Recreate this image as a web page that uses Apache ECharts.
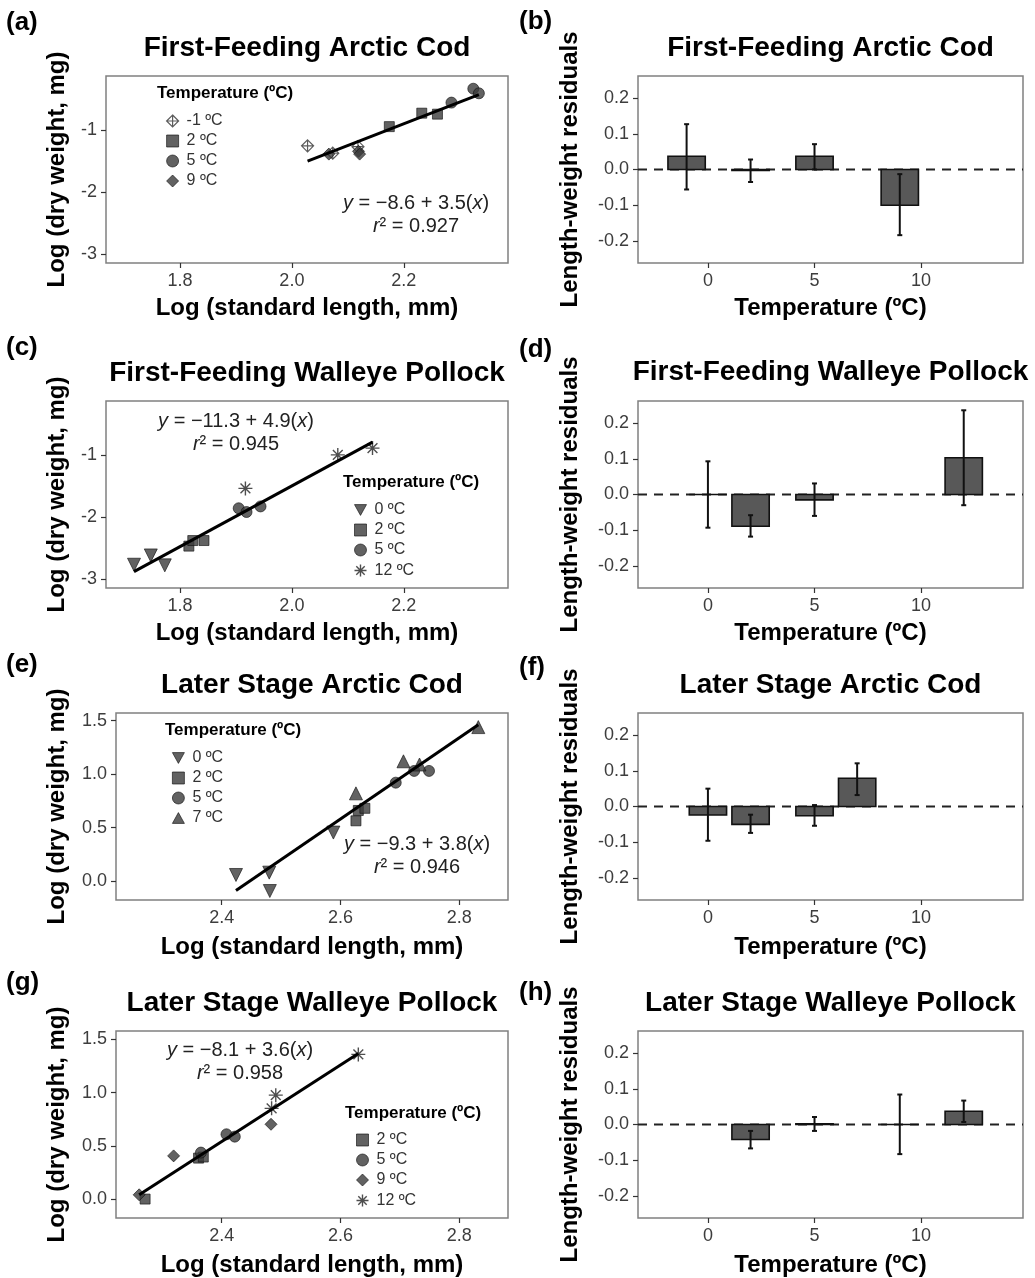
<!DOCTYPE html>
<html>
<head>
<meta charset="utf-8">
<script src="https://cdn.jsdelivr.net/npm/echarts@6/dist/echarts.min.js"></script>
<style>
html, body { margin: 0; padding: 0; background: #fff; }
#main { width: 1035px; height: 1278px; }
</style>
</head>
<body>
<div id="main"></div>
<script>
// 各点 [log 体长, log 干重]
// (a) First-Feeding Arctic Cod
const ffCodM1 = [[2.028, -1.257], [2.073, -1.375], [2.118, -1.27]];
const ffCod2 = [[2.174, -0.947], [2.232, -0.73], [2.26, -0.746]];
const ffCod5 = [[2.285, -0.56], [2.324, -0.336], [2.334, -0.41]];
const ffCod9 = [[2.066, -1.39], [2.119, -1.345], [2.121, -1.39]];
const ffCodFit = [-8.6, 3.5, 0.927];

// (c) First-Feeding Walleye Pollock
const ffPol0 = [[1.718, -2.77], [1.748, -2.62], [1.773, -2.78]];
const ffPol2 = [[1.816, -2.47], [1.823, -2.38], [1.843, -2.38]];
const ffPol5 = [[1.905, -1.86], [1.919, -1.92], [1.944, -1.83]];
const ffPol12 = [[1.917, -1.54], [2.082, -1.0], [2.144, -0.89]];
const ffPolFit = [-11.3, 4.9, 0.945];

// (e) Later Stage Arctic Cod
const lsCod0 = [[2.424, 0.056], [2.48, 0.078], [2.481, -0.094], [2.588, 0.453]];
const lsCod2 = [[2.626, 0.563], [2.63, 0.66], [2.641, 0.68]];
const lsCod5 = [[2.693, 0.92], [2.724, 1.03], [2.749, 1.03]];
const lsCod7 = [[2.626, 0.82], [2.706, 1.12], [2.733, 1.09], [2.832, 1.44]];
const lsCodFit = [-9.3, 3.8, 0.946];

// (g) Later Stage Walleye Pollock
const lsPol2 = [[2.271, 0.0], [2.361, 0.385], [2.369, 0.395]];
const lsPol5 = [[2.365, 0.437], [2.408, 0.609], [2.422, 0.587]];
const lsPol9 = [[2.261, 0.04], [2.319, 0.406], [2.483, 0.703]];
const lsPol12 = [[2.484, 0.853], [2.491, 0.977], [2.63, 1.36]];
const lsPolFit = [-8.1, 3.6, 0.958];

// 残差柱状图：温度、均值、误差下限、误差上限
const ffCodTemp = [-1, 2, 5, 9];
const ffCodRes = [0.037, -0.003, 0.037, -0.1];
const ffCodLo = [-0.056, -0.035, 0.0, -0.184];
const ffCodHi = [0.127, 0.028, 0.071, -0.013];

const ffPolTemp = [0, 2, 5, 12];
const ffPolRes = [0.0, -0.089, -0.015, 0.103];
const ffPolLo = [-0.093, -0.118, -0.06, -0.03];
const ffPolHi = [0.093, -0.058, 0.031, 0.236];

const lsCodTemp = [0, 2, 5, 7];
const lsCodRes = [-0.024, -0.05, -0.026, 0.079];
const lsCodLo = [-0.096, -0.074, -0.054, 0.032];
const lsCodHi = [0.05, -0.023, 0.004, 0.121];

const lsPolTemp = [2, 5, 9, 12];
const lsPolRes = [-0.042, 0.002, 0.0, 0.037];
const lsPolLo = [-0.067, -0.018, -0.083, 0.007];
const lsPolHi = [-0.018, 0.021, 0.084, 0.067];

// 刻度
const lenTicksFF = [1.8, 2.0, 2.2];
const wtTicksFF = [-3, -2, -1];
const lenTicksLS = [2.4, 2.6, 2.8];
const wtTicksLS = [0, 0.5, 1.0, 1.5];
const tempTicks = [0, 5, 10];
const resTicks = [-0.2, -0.1, 0, 0.1, 0.2];

const FONT = '"Liberation Sans", Arial, sans-serif';
const INK = '#111';
const BAR_HALF = 0.875;
const SYM = {
    diamondPlus: 'path://M0,-10L10,0L0,10L-10,0ZM0,-10L0,10M-10,0L10,0',
    triDown: 'path://M-10,-9L10,-9L0,9Z',
    triUp: 'path://M-10,9L10,9L0,-9Z',
    asterisk: 'path://M0,-10L0,10M-10,0L10,0M-7,-7L7,7M-7,7L7,-7',
};
const STYLE = {
    '-1': { symbol: SYM.diamondPlus, size: 12, itemStyle: { color: '#fff', borderColor: '#333', borderWidth: 1.2 } },
    '0': { symbol: SYM.triDown, size: 13, itemStyle: { color: '#3b3b3b', borderColor: INK, borderWidth: 0.8 } },
    '2': { symbol: 'rect', size: 10, itemStyle: { color: '#3b3b3b', borderColor: INK, borderWidth: 0.8 } },
    '5': { symbol: 'circle', size: 11, itemStyle: { color: '#3b3b3b', borderColor: INK, borderWidth: 0.8 } },
    '7': { symbol: SYM.triUp, size: 13, itemStyle: { color: '#3b3b3b', borderColor: INK, borderWidth: 0.8 } },
    '9': { symbol: 'diamond', size: 12, itemStyle: { color: '#3b3b3b', borderColor: INK, borderWidth: 0.8 } },
    '12': { symbol: SYM.asterisk, size: 14, itemStyle: { color: 'none', borderColor: '#222', borderWidth: 1.4 } },
};
const tName = (t) => `${t} ºC`;

const grids = [
    { left: 106, top: 76, width: 402, height: 187 },
    { left: 638, top: 76, width: 385, height: 187 },
    { left: 106, top: 401, width: 402, height: 187 },
    { left: 638, top: 401, width: 385, height: 187 },
    { left: 116, top: 713, width: 392, height: 187 },
    { left: 638, top: 713, width: 385, height: 187 },
    { left: 116, top: 1031, width: 392, height: 187 },
    { left: 638, top: 1031, width: 385, height: 187 },
];

const axisName = { fontSize: 24, fontWeight: 'bold', color: '#000', fontFamily: FONT };
const tickLabel = { fontSize: 18, color: '#3d3d3d', fontFamily: FONT };

function makeAxis(gi, dim, min, max, ticks, fmt, name, gap) {
    return {
        gridIndex: gi,
        type: 'value',
        min: min,
        max: max,
        name: name,
        nameLocation: 'middle',
        nameGap: gap,
        nameTextStyle: axisName,
        axisLine: { show: false, onZero: false },
        axisTick: { show: true, length: 5, customValues: ticks, lineStyle: { color: '#333', width: 1.2 } },
        axisLabel: Object.assign({ customValues: ticks, formatter: fmt, margin: dim === 'x' ? 9 : 9 }, tickLabel),
        splitLine: { show: false },
    };
}

const f1 = (v) => v.toFixed(1);
const f0 = (v) => String(v);

const xAxes = [
    makeAxis(0, 'x', 1.668, 2.386, lenTicksFF, f1, 'Log (standard length, mm)', 33),
    makeAxis(1, 'x', -3.28, 14.78, tempTicks, f0, 'Temperature (ºC)', 33),
    makeAxis(2, 'x', 1.668, 2.386, lenTicksFF, f1, 'Log (standard length, mm)', 33),
    makeAxis(3, 'x', -3.28, 14.78, tempTicks, f0, 'Temperature (ºC)', 33),
    makeAxis(4, 'x', 2.222, 2.882, lenTicksLS, f1, 'Log (standard length, mm)', 35),
    makeAxis(5, 'x', -3.28, 14.78, tempTicks, f0, 'Temperature (ºC)', 35),
    makeAxis(6, 'x', 2.222, 2.882, lenTicksLS, f1, 'Log (standard length, mm)', 35),
    makeAxis(7, 'x', -3.28, 14.78, tempTicks, f0, 'Temperature (ºC)', 35),
];
const yAxes = [
    makeAxis(0, 'y', -3.145, -0.131, wtTicksFF, f0, 'Log (dry weight, mg)', 37),
    makeAxis(1, 'y', -0.262, 0.262, resTicks, f1, 'Length-weight residuals', 56),
    makeAxis(2, 'y', -3.145, -0.131, wtTicksFF, f0, 'Log (dry weight, mg)', 37),
    makeAxis(3, 'y', -0.262, 0.262, resTicks, f1, 'Length-weight residuals', 56),
    makeAxis(4, 'y', -0.178, 1.572, wtTicksLS, f1, 'Log (dry weight, mg)', 47),
    makeAxis(5, 'y', -0.262, 0.262, resTicks, f1, 'Length-weight residuals', 56),
    makeAxis(6, 'y', -0.178, 1.58, wtTicksLS, f1, 'Log (dry weight, mg)', 47),
    makeAxis(7, 'y', -0.262, 0.262, resTicks, f1, 'Length-weight residuals', 56),
];

const series = [];

// 散点 + 回归线
function addScatter(gi, groups, fit) {
    groups.forEach(([t, data]) => {
        const s = STYLE[String(t)];
        series.push({
            type: 'scatter',
            name: tName(t),
            xAxisIndex: gi,
            yAxisIndex: gi,
            data: data,
            symbol: s.symbol,
            symbolSize: s.size,
            itemStyle: s.itemStyle,
            z: 2,
        });
    });
    const xs = groups.flatMap(([, data]) => data.map((p) => p[0]));
    const x0 = Math.min(...xs);
    const x1 = Math.max(...xs);
    series.push({
        type: 'line',
        xAxisIndex: gi,
        yAxisIndex: gi,
        data: [[x0, fit[0] + fit[1] * x0], [x1, fit[0] + fit[1] * x1]],
        symbol: 'none',
        lineStyle: { color: '#000', width: 3 },
        z: 3,
        silent: true,
    });
}

addScatter(0, [[-1, ffCodM1], [2, ffCod2], [5, ffCod5], [9, ffCod9]], ffCodFit);
addScatter(2, [[0, ffPol0], [2, ffPol2], [5, ffPol5], [12, ffPol12]], ffPolFit);
addScatter(4, [[0, lsCod0], [2, lsCod2], [5, lsCod5], [7, lsCod7]], lsCodFit);
addScatter(6, [[2, lsPol2], [5, lsPol5], [9, lsPol9], [12, lsPol12]], lsPolFit);

// 残差柱 + 误差线
function renderBar(params, api) {
    const x = api.value(0);
    const y = api.value(1);
    const a = api.coord([x - BAR_HALF, 0]);
    const b = api.coord([x + BAR_HALF, y]);
    const lo = api.coord([x, api.value(2)]);
    const hi = api.coord([x, api.value(3)]);
    const cap = 2.5;
    return {
        type: 'group',
        children: [
            {
                type: 'rect',
                shape: { x: a[0], y: Math.min(a[1], b[1]), width: b[0] - a[0], height: Math.abs(b[1] - a[1]) },
                style: { fill: '#585858', stroke: INK, lineWidth: 1.6 },
            },
            { type: 'line', shape: { x1: lo[0], y1: lo[1], x2: hi[0], y2: hi[1] }, style: { stroke: INK, lineWidth: 2 } },
            { type: 'line', shape: { x1: lo[0] - cap, y1: lo[1], x2: lo[0] + cap, y2: lo[1] }, style: { stroke: INK, lineWidth: 2 } },
            { type: 'line', shape: { x1: hi[0] - cap, y1: hi[1], x2: hi[0] + cap, y2: hi[1] }, style: { stroke: INK, lineWidth: 2 } },
        ],
    };
}

function addBars(gi, temps, res, lo, hi) {
    const ax = xAxes[gi];
    series.push({
        type: 'line',
        xAxisIndex: gi,
        yAxisIndex: gi,
        data: [[ax.min, 0], [ax.max, 0]],
        symbol: 'none',
        lineStyle: { color: '#222', width: 2, type: [9, 7] },
        z: 1,
        silent: true,
    });
    series.push({
        type: 'custom',
        xAxisIndex: gi,
        yAxisIndex: gi,
        renderItem: renderBar,
        data: temps.map((t, i) => [t, res[i], lo[i], hi[i]]),
        z: 2,
        silent: true,
    });
}

addBars(1, ffCodTemp, ffCodRes, ffCodLo, ffCodHi);
addBars(3, ffPolTemp, ffPolRes, ffPolLo, ffPolHi);
addBars(5, lsCodTemp, lsCodRes, lsCodLo, lsCodHi);
addBars(7, lsPolTemp, lsPolRes, lsPolLo, lsPolHi);

// 图例
function makeLegend(left, top, temps) {
    return {
        left: left,
        top: top,
        orient: 'vertical',
        itemWidth: 12,
        itemHeight: 12,
        itemGap: 4,
        selectedMode: false,
        textStyle: { fontSize: 16, color: '#333', fontFamily: FONT, padding: [0, 0, 0, 3] },
        data: temps.map((t) => ({ name: tName(t), icon: STYLE[String(t)].symbol, itemStyle: STYLE[String(t)].itemStyle })),
    };
}

const legends = [
    makeLegend(161, 108, [-1, 2, 5, 9]),
    makeLegend(347, 497, [0, 2, 5, 12]),
    makeLegend(167, 745, [0, 2, 5, 7]),
    makeLegend(349, 1127, [2, 5, 9, 12]),
];

// 文字
const texts = [];
function txt(x, y, text, size, weight, align) {
    texts.push({
        type: 'text',
        x: x,
        y: y,
        style: { text: text, fontSize: size, fontWeight: weight, fontFamily: FONT, fill: '#000', align: align, verticalAlign: 'middle' },
    });
}
const titles = [
    'First-Feeding Arctic Cod', 'First-Feeding Arctic Cod',
    'First-Feeding Walleye Pollock', 'First-Feeding Walleye Pollock',
    'Later Stage Arctic Cod', 'Later Stage Arctic Cod',
    'Later Stage Walleye Pollock', 'Later Stage Walleye Pollock',
];
const titleY = [48, 48, 373, 372, 685, 685, 1003, 1003];
titles.forEach((t, i) => txt(grids[i].left + grids[i].width / 2, titleY[i], t, 28, 'bold', 'center'));

const panelLabels = ['(a)', '(b)', '(c)', '(d)', '(e)', '(f)', '(g)', '(h)'];
const panelPos = [[6, 23], [519, 22], [6, 348], [519, 350], [6, 665], [519, 668], [6, 983], [519, 993]];
panelLabels.forEach((t, i) => txt(panelPos[i][0], panelPos[i][1], t, 26, 'bold', 'left'));

[[157, 93], [343, 482], [165, 730], [345, 1113]].forEach((p) => txt(p[0], p[1], 'Temperature (ºC)', 17, 'bold', 'left'));

function equation(x, y, fit) {
    const rich = {
        i: { fontStyle: 'italic', fontSize: 20, fontFamily: FONT, fill: '#222' },
        n: { fontSize: 20, fontFamily: FONT, fill: '#222' },
    };
    texts.push({
        type: 'text', x: x, y: y,
        style: {
            text: `{i|y}{n| = \u2212${Math.abs(fit[0]).toFixed(1)} + ${fit[1].toFixed(1)}(}{i|x}{n|)}`,
            rich: rich, fontSize: 20, fontFamily: FONT, fill: '#222', align: 'center', verticalAlign: 'middle',
        },
    });
    texts.push({
        type: 'text', x: x, y: y + 23,
        style: {
            text: `{i|r}{n|² = ${fit[2].toFixed(3)}}`,
            rich: rich, fontSize: 20, fontFamily: FONT, fill: '#222', align: 'center', verticalAlign: 'middle',
        },
    });
}
equation(416, 203, ffCodFit);
equation(236, 421, ffPolFit);
equation(417, 844, lsCodFit);
equation(240, 1050, lsPolFit);

const chart = echarts.init(document.getElementById('main'));
chart.setOption({
    animation: false,
    backgroundColor: '#fff',
    grid: grids.map((g) => Object.assign({ show: true, borderColor: '#808080', borderWidth: 1.5, backgroundColor: 'transparent', outerBoundsMode: 'none' }, g)),
    xAxis: xAxes,
    yAxis: yAxes,
    legend: legends,
    series: series,
    graphic: texts,
});
</script>
</body>
</html>
